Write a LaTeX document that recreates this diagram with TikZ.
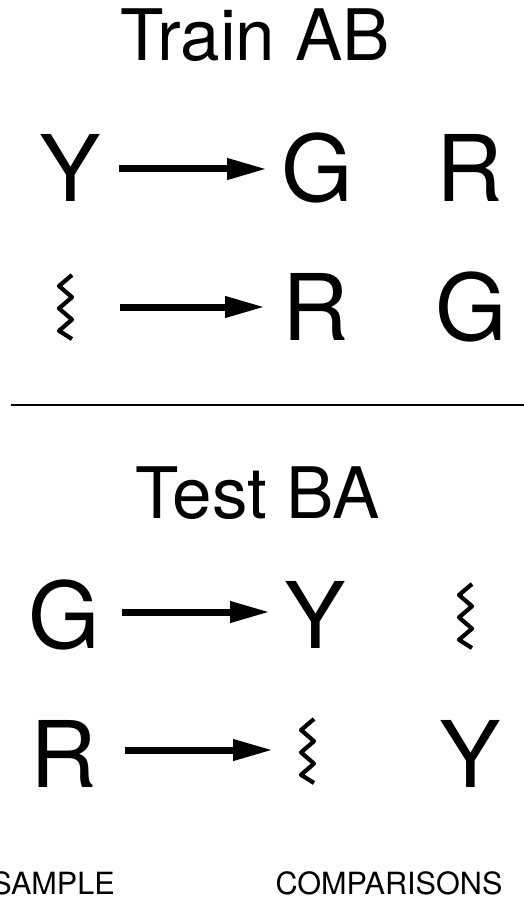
\documentclass[tikz,border=0pt]{standalone}
\usepackage{fontspec}
\setmainfont{TeX Gyre Heros}
\usetikzlibrary{arrows.meta}
\begin{document}
\begin{tikzpicture}[x=1pt,y=-1pt,
  big/.style={inner sep=0pt,anchor=base,font=\fontsize{92}{92}\selectfont},
  head/.style={inner sep=0pt,anchor=base,font=\fontsize{71}{71}\selectfont},
  foot/.style={inner sep=0pt,anchor=base,font=\fontsize{30.6}{30.6}\selectfont},
  arr/.style={line width=7pt,-{Triangle[length=40pt,width=20pt]}},
  pics/squiggle/.style={code={
    \draw[line width=4.2pt,line join=round]
      (6.5,2) -- (-6.5,13) -- (6.5,24.2) -- (-6.5,35.4) -- (6.5,46.6) -- (-6.5,57.8) -- (6.5,66);
  }}]
\useasboundingbox (0,0) rectangle (524,909);
\fill[white] (0,0) rectangle (524,909);

% Train AB
\node[head] (train) at (255,61) {Train AB};
\node[big] (y1) at (70,202) {Y};
\node[big] (g1) at (317,202) {G};
\node[big] (r1) at (470,202) {R};
\coordinate (s1) at (119,169);
\coordinate (e1) at (267,169);
\draw[arr] (s1) -- (e1);

\pic (q1) at (65.5,273) {squiggle};
\node[big] (r2) at (316,340) {R};
\node[big] (g2) at (471,340) {G};
\coordinate (s2) at (120,307);
\coordinate (e2) at (265,307);
\draw[arr] (s2) -- (e2);

% separator
\coordinate (la) at (11,405);
\coordinate (lb) at (524,405);
\draw[line width=1.5pt] (la) -- (lb);

% Test BA
\node[head] (test) at (258,518) {Test BA};
\node[big] (g3) at (64,648) {G};
\node[big] (y3) at (315,648) {Y};
\pic (q3) at (465.5,582) {squiggle};
\coordinate (s3) at (122,612);
\coordinate (e3) at (270,612);
\draw[arr] (s3) -- (e3);

\node[big] (r4) at (64,787) {R};
\pic (q4) at (307.5,717) {squiggle};
\node[big] (y4) at (470,787) {Y};
\coordinate (s4) at (125,750);
\coordinate (e4) at (273,750);
\draw[arr] (s4) -- (e4);

% labels
\node[foot,anchor=base east] (sample) at (115,894) {SAMPLE};
\node[foot] (comp) at (389,894) {COMPARISONS};
\end{tikzpicture}
\end{document}
